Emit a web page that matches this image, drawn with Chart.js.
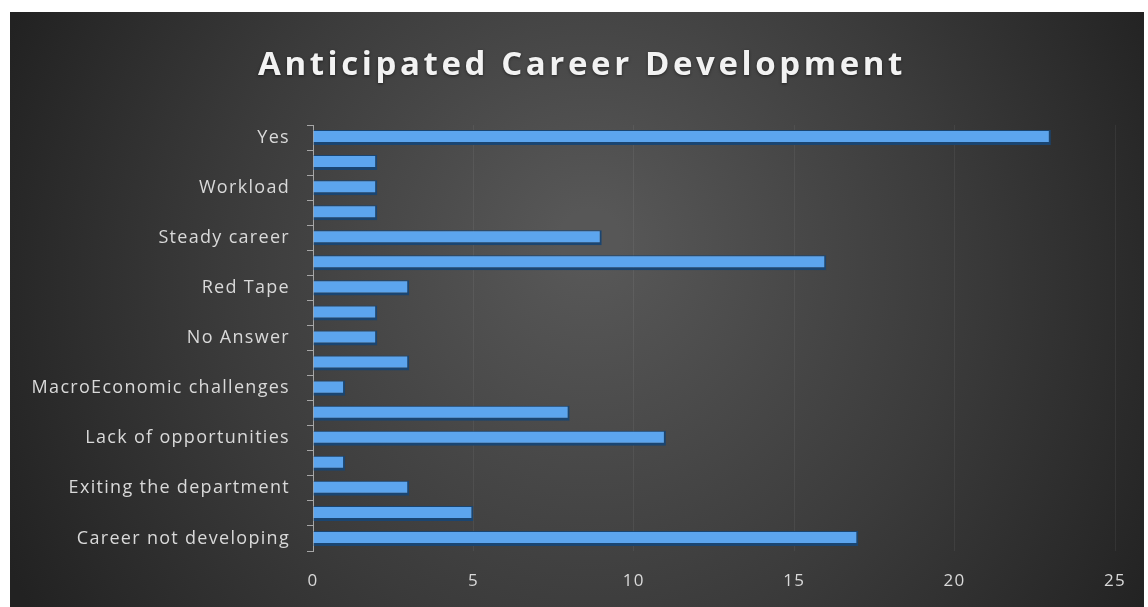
<!DOCTYPE html>
<html>
<head>
<meta charset="utf-8">
<script src="https://cdn.jsdelivr.net/npm/chart.js@4.4.0/dist/chart.umd.min.js"></script>
<style>
  html, body { margin: 0; padding: 0; background: #fff; }
  #wrap { width: 1148px; height: 607px; position: relative; }
</style>
</head>
<body>
<div id="wrap"><canvas id="chart" width="1148" height="607"></canvas></div>
<script>
// categorias de arriba a abajo (solo una de cada dos lleva etiqueta visible)
const categories = [
  "Yes", "", "Workload", "", "Steady career", "", "Red Tape", "",
  "No Answer", "", "MacroEconomic challenges", "", "Lack of opportunities", "",
  "Exiting the department", "", "Career not developing"
];
const values = [23, 2, 2, 2, 9, 16, 3, 2, 2, 3, 1, 8, 11, 1, 3, 5, 17];
const xTicks = [0, 5, 10, 15, 20, 25];

const titleText = "Anticipated Career Development";
const labelColor = "#d9d9d9";

// fondo oscuro con degradado radial + espaciado de letras
const bgPlugin = {
  id: "bg",
  beforeLayout(chart) { chart.ctx.letterSpacing = "1.3px"; },
  beforeDraw(chart) {
    const c = chart.ctx;
    c.letterSpacing = "1.3px";
    c.save();
    c.fillStyle = "#ffffff";
    c.fillRect(0, 0, chart.width, chart.height);
    const g = c.createRadialGradient(590, 240, 30, 590, 300, 640);
    g.addColorStop(0, "#575757");
    g.addColorStop(0.55, "#3b3b3b");
    g.addColorStop(1, "#222222");
    c.fillStyle = g;
    c.fillRect(10, 12, chart.width - 14, chart.height - 12);
    c.restore();
  }
};

// titulo dibujado a mano para poder separar las letras
const titlePlugin = {
  id: "bigTitle",
  afterDraw(chart) {
    const c = chart.ctx;
    c.save();
    c.letterSpacing = "3.6px";
    c.font = "bold 33px 'Open Sans'";
    c.fillStyle = "#f2f2f2";
    c.textAlign = "center";
    c.textBaseline = "alphabetic";
    c.shadowColor = "rgba(0,0,0,0.5)";
    c.shadowBlur = 3;
    c.shadowOffsetY = 1;
    c.fillText(titleText, 582, 75);
    c.restore();
  }
};

const ctx = document.getElementById("chart").getContext("2d");
new Chart(ctx, {
  type: "bar",
  data: {
    labels: categories,
    datasets: [{
      data: values,
      backgroundColor: "#5ca5ee",
      borderColor: "#1a4571",
      borderWidth: { top: 1, bottom: 3, right: 2, left: 0 },
      borderSkipped: "left",
      categoryPercentage: 1,
      barPercentage: 0.6
    }]
  },
  options: {
    indexAxis: "y",
    responsive: false,
    animation: false,
    layout: { padding: { left: 10, right: 33, top: 125, bottom: 0 } },
    plugins: {
      legend: { display: false },
      tooltip: { enabled: false },
      title: { display: false }
    },
    scales: {
      x: {
        min: 0,
        max: 25,
        afterBuildTicks(scale) { scale.ticks = xTicks.map(v => ({ value: v })); },
        afterFit(scale) { scale.height = 56; },
        grid: { color: "rgba(255,255,255,0.06)", drawTicks: false },
        border: { display: false },
        ticks: { color: labelColor, font: { family: "Open Sans", size: 17 }, padding: 20 }
      },
      y: {
        afterFit(scale) { scale.width = 303; },
        grid: { display: true, drawOnChartArea: false, drawTicks: true, tickLength: 6, tickColor: "#a6a6a6" },
        border: { display: true, color: "#a6a6a6", width: 1 },
        ticks: { color: labelColor, autoSkip: false, font: { family: "Open Sans", size: 18 }, padding: 17 }
      }
    }
  },
  plugins: [bgPlugin, titlePlugin]
});
</script>
</body>
</html>
